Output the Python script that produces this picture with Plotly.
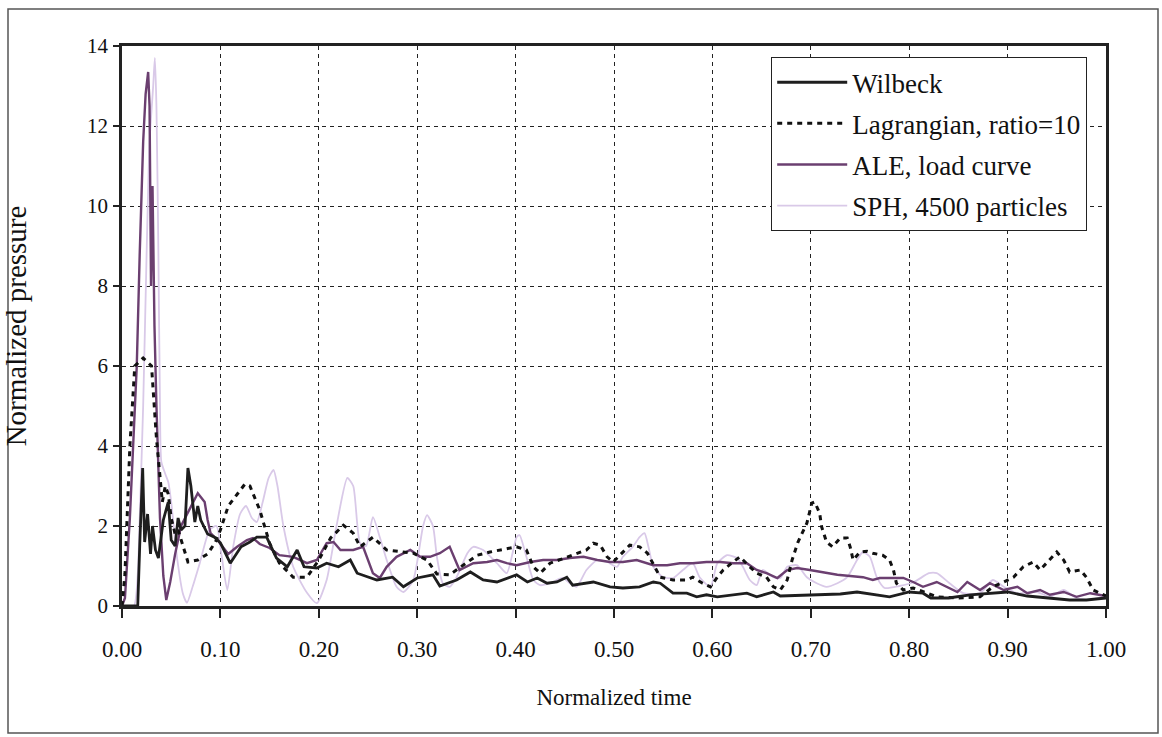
import plotly.graph_objects as go

# ---------------- data ----------------
wil_x = [0, 0.016, 0.018, 0.021, 0.023, 0.026, 0.029, 0.031, 0.034, 0.037, 0.042, 0.047, 0.050, 0.054,
         0.057, 0.060, 0.064, 0.067, 0.070, 0.074, 0.077, 0.080, 0.087, 0.094, 0.100, 0.110, 0.121, 0.130,
         0.137, 0.147, 0.157, 0.168, 0.178, 0.185, 0.198, 0.208, 0.220, 0.232, 0.239, 0.259, 0.275, 0.286,
         0.300, 0.316, 0.323, 0.340, 0.354, 0.367, 0.381, 0.391, 0.401, 0.412, 0.422, 0.432, 0.442, 0.452,
         0.458, 0.479, 0.496, 0.509, 0.526, 0.540, 0.547, 0.560, 0.574, 0.584, 0.594, 0.605, 0.621, 0.635,
         0.645, 0.662, 0.669, 0.696, 0.730, 0.747, 0.763, 0.780, 0.800, 0.814, 0.822, 0.840, 0.862, 0.880,
         0.900, 0.920, 0.940, 0.963, 0.980, 1.0]
wil_y = [0, 0, 1.5, 3.45, 1.6, 2.3, 1.3, 2.0, 1.4, 1.2, 2.15, 2.6, 1.65, 1.5,
         2.2, 1.9, 2.0, 3.45, 3.0, 2.1, 2.5, 2.15, 1.8, 1.72, 1.58, 1.07, 1.48, 1.6,
         1.72, 1.72, 1.2, 0.98, 1.4, 0.98, 0.95, 1.07, 0.98, 1.15, 0.82, 0.65, 0.72, 0.48,
         0.70, 0.78, 0.50, 0.65, 0.85, 0.65, 0.60, 0.70, 0.78, 0.60, 0.70, 0.57, 0.60, 0.72,
         0.52, 0.60, 0.48, 0.45, 0.48, 0.60, 0.57, 0.32, 0.32, 0.23, 0.28, 0.23, 0.28, 0.32,
         0.23, 0.35, 0.25, 0.28, 0.30, 0.35, 0.30, 0.23, 0.35, 0.32, 0.20, 0.20, 0.28, 0.32,
         0.35, 0.25, 0.20, 0.15, 0.15, 0.20]

lag_x = [0, 0.003, 0.008, 0.013, 0.0215, 0.030, 0.035, 0.039, 0.041, 0.044, 0.047, 0.050, 0.054, 0.057,
         0.064, 0.067, 0.077, 0.087, 0.095, 0.100, 0.108, 0.117, 0.125, 0.130, 0.140, 0.150, 0.160, 0.174,
         0.188, 0.200, 0.212, 0.225, 0.235, 0.242, 0.255, 0.269, 0.283, 0.296, 0.310, 0.320, 0.333, 0.347,
         0.361, 0.374, 0.387, 0.401, 0.411, 0.418, 0.425, 0.435, 0.450, 0.462, 0.472, 0.479, 0.486, 0.493,
         0.499, 0.506, 0.516, 0.526, 0.534, 0.547, 0.560, 0.574, 0.580, 0.590, 0.598, 0.605, 0.611, 0.621,
         0.628, 0.638, 0.645, 0.655, 0.662, 0.669, 0.676, 0.681, 0.687, 0.696, 0.701, 0.704, 0.709, 0.711,
         0.716, 0.722, 0.730, 0.737, 0.740, 0.743, 0.750, 0.757, 0.763, 0.773, 0.780, 0.784, 0.787, 0.794,
         0.804, 0.828, 0.849, 0.872, 0.885, 0.896, 0.906, 0.916, 0.926, 0.933, 0.943, 0.950, 0.957, 0.963,
         0.974, 0.980, 0.987, 0.997, 1.0]
lag_y = [0, 0.8, 4.0, 6.0, 6.2, 6.0, 4.2, 3.1, 2.6, 3.0, 2.8, 2.2, 1.8, 1.9,
         1.3, 1.1, 1.15, 1.3, 1.6, 1.9, 2.5, 2.8, 3.05, 3.0, 2.4, 1.57, 1.07, 0.72,
         0.72, 1.15, 1.7, 2.02, 1.82, 1.48, 1.72, 1.4, 1.35, 1.32, 1.15, 0.8, 0.78, 1.02,
         1.27, 1.35, 1.42, 1.48, 1.4, 0.98, 0.82, 1.07, 1.2, 1.32, 1.4, 1.57, 1.52, 1.23,
         1.1, 1.27, 1.52, 1.48, 1.32, 0.72, 0.65, 0.65, 0.72, 0.57, 0.48, 0.72, 0.9, 1.1,
         1.23, 0.98, 0.82, 0.72, 0.48, 0.4, 0.65, 1.15, 1.6, 2.07, 2.57, 2.6, 2.32, 1.98,
         1.6, 1.48, 1.7, 1.7, 1.48, 1.15, 1.35, 1.37, 1.32, 1.27, 1.15, 0.9, 0.57, 0.4,
         0.45, 0.23, 0.2, 0.23, 0.48, 0.6, 0.72, 0.98, 1.1, 0.9, 1.15, 1.35, 1.15, 0.85,
         0.9, 0.72, 0.4, 0.28, 0.25]

ale_x = [0, 0.003, 0.008, 0.011, 0.015, 0.018, 0.0215, 0.024, 0.0266, 0.028, 0.0295, 0.031, 0.033, 0.035,
         0.0386, 0.042, 0.045, 0.049, 0.054, 0.060, 0.066, 0.072, 0.077, 0.084, 0.087, 0.090, 0.097, 0.108,
         0.117, 0.127, 0.133, 0.140, 0.150, 0.160, 0.174, 0.188, 0.198, 0.208, 0.215, 0.222, 0.235, 0.245,
         0.255, 0.262, 0.269, 0.279, 0.293, 0.303, 0.313, 0.323, 0.333, 0.343, 0.357, 0.371, 0.381, 0.391,
         0.401, 0.415, 0.428, 0.442, 0.455, 0.469, 0.483, 0.496, 0.509, 0.523, 0.540, 0.554, 0.567, 0.580,
         0.594, 0.608, 0.621, 0.635, 0.645, 0.655, 0.666, 0.676, 0.686, 0.699, 0.712, 0.727, 0.740, 0.753,
         0.763, 0.770, 0.780, 0.794, 0.804, 0.814, 0.828, 0.838, 0.849, 0.859, 0.872, 0.882, 0.896, 0.910,
         0.920, 0.933, 0.943, 0.957, 0.970, 0.984, 0.997, 1.0]
ale_y = [0, 0.2, 2.2, 4.0, 6.0, 8.8, 11.6, 12.8, 13.35, 12.5, 8.0, 10.5, 7.0, 5.0,
         2.2, 0.75, 0.15, 0.6, 1.3, 2.0, 2.3, 2.6, 2.82, 2.6, 2.15, 1.82, 1.65, 1.3,
         1.48, 1.65, 1.7, 1.55, 1.45, 1.27, 1.23, 1.07, 1.15, 1.57, 1.6, 1.4, 1.4, 1.48,
         0.82, 0.7, 0.98, 1.23, 1.4, 1.23, 1.23, 1.32, 1.48, 0.9, 1.07, 1.1, 1.15, 1.07,
         1.02, 1.1, 1.15, 1.15, 1.2, 1.23, 1.15, 1.1, 1.1, 1.15, 1.02, 1.02, 1.07, 1.07,
         1.1, 1.1, 1.07, 1.07, 0.9, 0.82, 0.7, 0.9, 0.95, 0.9, 0.85, 0.78, 0.75, 0.72,
         0.65, 0.7, 0.7, 0.7, 0.6, 0.48, 0.6, 0.48, 0.35, 0.6, 0.4, 0.57, 0.4, 0.48,
         0.32, 0.4, 0.28, 0.35, 0.23, 0.32, 0.25, 0.25]

sph_x = [0, 0.012, 0.016, 0.018, 0.0215, 0.025, 0.028, 0.0317, 0.0334, 0.035, 0.037, 0.0386, 0.040, 0.044,
         0.047, 0.050, 0.056, 0.062, 0.066, 0.072, 0.079, 0.089, 0.096, 0.101, 0.107, 0.113, 0.120, 0.126,
         0.132, 0.137, 0.143, 0.149, 0.154, 0.158, 0.164, 0.174, 0.188, 0.198, 0.208, 0.218, 0.229, 0.235,
         0.242, 0.248, 0.255, 0.262, 0.269, 0.279, 0.286, 0.296, 0.306, 0.310, 0.316, 0.320, 0.326, 0.333,
         0.340, 0.351, 0.357, 0.367, 0.381, 0.391, 0.401, 0.404, 0.411, 0.418, 0.425, 0.435, 0.448, 0.455,
         0.462, 0.472, 0.483, 0.493, 0.503, 0.509, 0.519, 0.526, 0.531, 0.535, 0.540, 0.550, 0.560, 0.570,
         0.580, 0.587, 0.598, 0.605, 0.615, 0.625, 0.631, 0.638, 0.645, 0.651, 0.662, 0.669, 0.676, 0.686,
         0.696, 0.706, 0.716, 0.727, 0.737, 0.747, 0.753, 0.760, 0.767, 0.775, 0.790, 0.805, 0.820, 0.828,
         0.841, 0.855, 0.872, 0.885, 0.896, 0.910, 0.930, 0.943, 0.957, 0.970, 0.984, 0.997, 1.0]
sph_y = [0, 0, 0.8, 2.2, 5.0, 8.8, 11.6, 13.0, 13.7, 12.5, 8.8, 5.0, 3.6, 3.3,
         3.1, 2.6, 1.2, 0.3, 0.08, 0.5, 1.07, 1.9, 2.0, 1.3, 0.4, 1.48, 2.3, 2.5,
         2.2, 2.1, 2.6, 3.2, 3.4, 3.0, 2.0, 0.98, 0.33, 0.07, 0.65, 2.0, 3.2, 3.0,
         1.57, 1.5, 2.22, 1.72, 1.15, 0.48, 0.35, 0.65, 2.0, 2.27, 2.0, 1.23, 0.57, 0.48,
         0.72, 1.32, 1.48, 1.4, 1.07, 0.82, 1.72, 1.77, 1.23, 0.65, 0.52, 0.57, 0.7, 0.57,
         0.48, 0.9, 1.15, 1.1, 0.98, 1.23, 1.48, 1.72, 1.82, 1.48, 0.98, 0.72, 0.7, 0.9,
         1.07, 0.72, 0.48, 1.07, 1.27, 1.2, 0.98, 0.65, 0.52, 0.9, 0.72, 0.7, 0.98, 1.02,
         0.72, 0.57, 0.48, 0.57, 0.72, 1.15, 1.35, 1.23, 0.72, 0.45, 0.5, 0.6, 0.82, 0.82,
         0.57, 0.32, 0.32, 0.65, 0.48, 0.32, 0.35, 0.23, 0.4, 0.2, 0.15, 0.23, 0.23]

x_ticks = [0.0, 0.1, 0.2, 0.3, 0.4, 0.5, 0.6, 0.7, 0.8, 0.9, 1.0]
x_tick_labels = ["0.00", "0.10", "0.20", "0.30", "0.40", "0.50", "0.60", "0.70", "0.80", "0.90", "1.00"]
y_ticks = [0, 2, 4, 6, 8, 10, 12, 14]

names = ["Wilbeck", "Lagrangian, ratio=10", "ALE, load curve", "SPH, 4500 particles"]

FONT = "Liberation Serif, Times New Roman, serif"

fig = go.Figure()
fig.add_trace(go.Scatter(x=sph_x, y=sph_y, mode="lines", name=names[3], legendrank=4, legendgroup="d",
                         line=dict(color="#d9c9e8", width=1.8, shape="spline", smoothing=0.6)))
fig.add_trace(go.Scatter(x=ale_x, y=ale_y, mode="lines", name=names[2], legendrank=3, legendgroup="c",
                         line=dict(color="#6b3f70", width=2.4)))
fig.add_trace(go.Scatter(x=lag_x, y=lag_y, mode="lines", name=names[1], legendrank=2, legendgroup="b",
                         line=dict(color="#111111", width=3, dash="5px,5px")))
fig.add_trace(go.Scatter(x=wil_x, y=wil_y, mode="lines", name=names[0], legendrank=1, legendgroup="a",
                         line=dict(color="#1e1e1e", width=2.8)))

axis_common = dict(
    showline=True, linecolor="#222222", linewidth=2.5, mirror=True,
    showgrid=True, gridcolor="#222222", gridwidth=1.4, griddash="4px,4px",
    zeroline=False, ticks="outside", tickcolor="#222222",
)

fig.update_xaxes(range=[0, 1], tickvals=x_ticks, ticktext=x_tick_labels, ticklen=9, tickwidth=1.5,
                 ticklabelstandoff=12,
                 tickfont=dict(family=FONT, size=23, color="#111111"),
                 title=dict(text="Normalized time", font=dict(family=FONT, size=23, color="#111111"),
                            standoff=28),
                 **axis_common)
fig.update_yaxes(range=[0, 14], tickvals=y_ticks, ticklen=6, tickwidth=1.5,
                 ticklabelstandoff=1,
                 tickfont=dict(family=FONT, size=21, color="#111111"),
                 title=dict(text="Normalized pressure", font=dict(family=FONT, size=29, color="#111111"),
                            standoff=52),
                 **axis_common)

# outer frame around the whole figure
fig.add_shape(type="rect", xref="paper", yref="paper",
              x0=(8 - 122) / 984, x1=(1158 - 122) / 984,
              y0=(606 - 733) / 560, y1=(606 - 9) / 560,
              line=dict(color="#555555", width=1.5), fillcolor="rgba(0,0,0,0)", layer="below")

fig.update_layout(
    width=1162, height=737,
    margin=dict(l=122, r=56, t=46, b=131),
    paper_bgcolor="white", plot_bgcolor="white",
    font=dict(family=FONT, color="#111111"),
    legend=dict(x=(771 - 122) / 984, y=(606 - 57) / 560, xanchor="left", yanchor="top",
                bgcolor="white", bordercolor="#222222", borderwidth=1.2,
                font=dict(family=FONT, size=27, color="#111111"),
                itemwidth=70, tracegroupgap=3, traceorder="grouped"),
    showlegend=True,
)

fig.write_html("out.html")
